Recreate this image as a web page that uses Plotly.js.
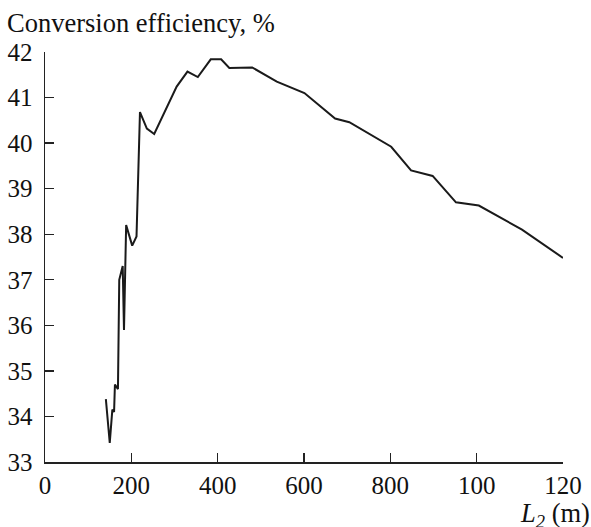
<!DOCTYPE html>
<html>
<head>
<meta charset="utf-8">
<script src="https://cdn.plot.ly/plotly-3.0.1.min.js"></script>
<style>html,body{margin:0;padding:0;background:#fff;}#chart{width:591px;height:527px;}</style>
</head>
<body>
<div id="chart"></div>
<script>
const lengthM = [141, 150, 156, 160, 162, 169, 172, 180, 183, 188, 202, 212, 220, 236, 253, 305, 330, 354, 384, 408, 427, 480, 537, 601, 672, 705, 802, 848, 898, 952, 1005, 1105, 1200];
const efficiency = [34.38, 33.42, 34.15, 34.1, 34.7, 34.6, 37.0, 37.3, 35.9, 38.2, 37.75, 37.95, 40.68, 40.32, 40.2, 41.24, 41.57, 41.45, 41.84, 41.84, 41.65, 41.66, 41.35, 41.1, 40.54, 40.46, 39.92, 39.4, 39.28, 38.7, 38.63, 38.1, 37.48];
const xTickVals = [0, 200, 400, 600, 800, 1000, 1200];
const xTickText = ["0", "200", "400", "600", "800", "100", "120"];
const yTickVals = [33, 34, 35, 36, 37, 38, 39, 40, 41, 42];

const fam = "Liberation Serif, Times New Roman, serif";
const tickFont = {family: fam, color: "#111", size: 25};
const titleFont = {family: fam, color: "#111", size: 26.5};

const trace = {
  x: lengthM, y: efficiency, type: "scatter", mode: "lines",
  line: {color: "#1a1a1a", width: 2}, hoverinfo: "skip"
};

const layout = {
  width: 591, height: 527,
  margin: {l: 45, r: 28, t: 52, b: 65},
  paper_bgcolor: "#fff", plot_bgcolor: "#fff",
  showlegend: false,
  font: tickFont,
  xaxis: {
    range: [0, 1200], tickvals: xTickVals, ticktext: xTickText,
    ticks: "inside", ticklen: 9, tickwidth: 1.3, tickcolor: "#222",
    showline: true, linecolor: "#222", linewidth: 1.5, mirror: false,
    showgrid: false, zeroline: false, tickfont: tickFont
  },
  yaxis: {
    range: [33, 42], tickvals: yTickVals,
    ticks: "inside", ticklen: 9, tickwidth: 1.3, tickcolor: "#222",
    showline: true, linecolor: "#222", linewidth: 1.5, mirror: false,
    showgrid: false, zeroline: false, tickfont: tickFont,
    ticklabelstandoff: 6
  },
  annotations: [
    {text: "Conversion efficiency, %", xref: "paper", yref: "paper", x: -0.077, y: 1.0707, xanchor: "left", yanchor: "middle", showarrow: false, font: titleFont},
    {text: "<i>L</i><sub><i>2</i></sub> (m)", xref: "paper", yref: "paper", x: 1.056, y: -0.083, xanchor: "right", yanchor: "top", showarrow: false, font: titleFont}
  ]
};

Plotly.newPlot("chart", [trace], layout, {staticPlot: true, displayModeBar: false});
</script>
</body>
</html>
